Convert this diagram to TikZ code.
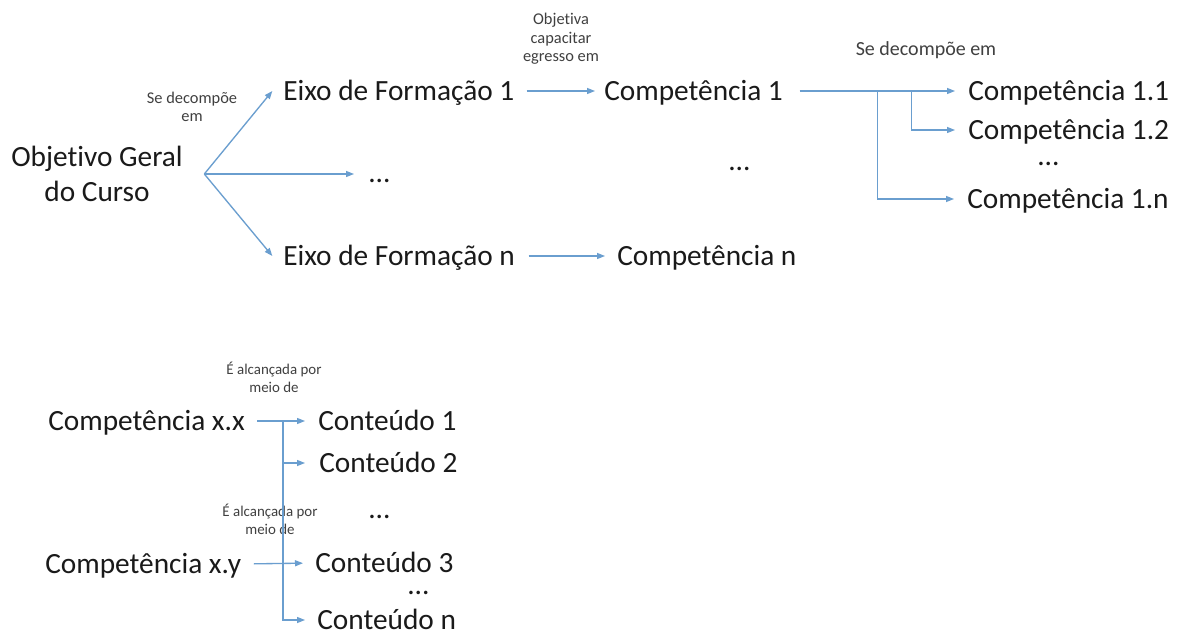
\documentclass[tikz,border=0pt]{standalone}
\usepackage{fontspec}
\setmainfont{Carlito}[Ligatures=NoCommon]
\usetikzlibrary{arrows.meta}
\definecolor{ln}{HTML}{6A9ECF}
\definecolor{tx}{HTML}{1A1A1A}
\definecolor{sm}{HTML}{404040}
\begin{document}
\begin{tikzpicture}[x=0.75pt,y=-0.75pt,
  big/.style={font=\fontsize{22}{26.3}\selectfont, text=tx, inner sep=0pt, text height=14.1pt, text depth=0pt, anchor=west},
  ogs/.style={font=\fontsize{22}{26.3}\selectfont, text=tx, inner sep=0pt, align=center},
  lbl/.style={font=\fontsize{12.3}{13.9}\selectfont, text=sm, inner sep=0pt, align=center},
  lblr/.style={font=\fontsize{15}{18}\selectfont, text=sm, inner sep=0pt},
  lblb/.style={font=\fontsize{11.2}{13.5}\selectfont, text=sm, inner sep=0pt, align=center},
  dotsn/.style={font=\fontsize{22}{26.3}\selectfont, text=tx, inner sep=0pt, text height=3pt, text depth=0pt, anchor=base west},
  conn/.style={draw=ln, line width=1pt, -{Triangle[length=6pt,width=4.5pt]}}]
\useasboundingbox (0,0) rectangle (1177,634);
\fill[white] (0,0) rectangle (1177,634);

% top part
\node[ogs] (og) at (97,174) {Objetivo Geral\\do Curso};
\coordinate (fan) at ([xshift=16pt]og.east);
\node[lbl] (l1) at (192,107) {Se decompõe\\em};
\node[big] (e1) at (283,91) {Eixo de Formação 1};
\node[dotsn] (d1) at (368,183) {...};
\node[big] (en) at (283,256) {Eixo de Formação n};
\node[lbl] (l2) at (561,39) {Objetiva\\capacitar\\egresso em};
\node[big] (c1) at (604,91) {Competência 1};
\node[dotsn] (d2) at (728,171) {...};
\node[big] (cn) at (617,256) {Competência n};
\node[lblr] (l3) at (926,50) {Se decompõe em};
\node[big] (c11) at (968,91) {Competência 1.1};
\node[big] (c12) at (968,130) {Competência 1.2};
\node[dotsn] (d3) at (1037,166) {...};
\node[big] (c1n) at (967,199) {Competência 1.n};

\draw[conn] (fan) -- ([xshift=-8pt]e1.west);
\draw[conn, shorten >=10.5pt] (fan) -- (fan -| d1.west);
\draw[conn] (fan) -- ([xshift=-8pt]en.west);
\draw[conn, shorten <=9pt, shorten >=6.75pt] (e1.east) -- (c1.west);
\draw[conn, shorten <=10pt, shorten >=9pt] (en.east) -- (cn.west);
\draw[conn, shorten <=12.4pt, shorten >=9.75pt] (c1.east) -- (c11.west);
\coordinate (b1) at ([xshift=70.9pt]c1.east);
\coordinate (b2) at ([xshift=96.4pt]c1.east);
\draw[conn] (b1) |- ([xshift=-9.75pt]c1n.west);
\draw[conn] (b2) |- ([xshift=-9.75pt]c12.west);

% bottom part
\node[lblb] (l4) at (274,377) {É alcançada por\\meio de};
\node[big] (cxx) at (48,421) {Competência x.x};
\node[big] (k1) at (318,421) {Conteúdo 1};
\node[big] (k2) at (319,463) {Conteúdo 2};
\node[dotsn] (d4) at (368,518) {...};
\node[lblb] (l5) at (270,519) {É alcançada por\\meio de};
\node[big] (cxy) at (45,564) {Competência x.y};
\node[big] (k3) at (315,563) {Conteúdo 3};
\node[dotsn] (d5) at (407,594) {...};
\node[big] (kn) at (317,620) {Conteúdo n};

\draw[conn, shorten <=9pt, shorten >=9.75pt] (cxx.east) -- (k1.west);
\coordinate (b3) at ([xshift=28.5pt]cxx.east);
\draw[conn] (b3) |- ([xshift=-10.5pt]k2.west);
\draw[conn] (b3) |- ([xshift=-9pt]kn.west);
\draw[conn, shorten <=9.3pt, shorten >=9pt] (cxy.east) -- (k3.west);
\end{tikzpicture}
\end{document}
